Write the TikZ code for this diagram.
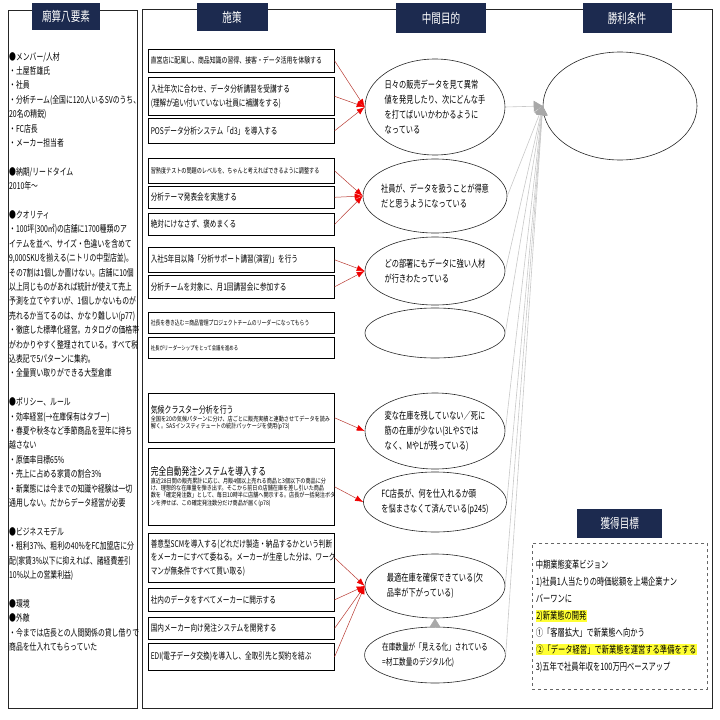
\documentclass[tikz,border=0pt]{standalone}
\usepackage{fontspec}
\setmainfont{Noto Sans CJK JP}[FakeStretch=0.72]
\newfontfamily\jpsub{Noto Sans CJK JP}[FakeStretch=0.8]
\usepackage{xcolor}
\usetikzlibrary{arrows.meta, positioning, shapes.geometric}
\definecolor{hdnavy}{HTML}{1C2A4F}
\definecolor{lnred}{HTML}{B83A32}
\definecolor{tipred}{HTML}{F00000}
\definecolor{lngray}{HTML}{C8C8C8}
\definecolor{tipgray}{HTML}{A8A8A8}
\definecolor{hlyellow}{HTML}{FFFF33}
\setlength{\fboxsep}{0.6pt}
\tikzset{
  thead/.style={fill=hdnavy, text=white, inner sep=0pt, minimum height=28pt, font=\fontsize{13.3}{14}\selectfont},
  tframe/.style={draw=black!85, line width=0.8pt},
  tside/.style={anchor=north west, inner sep=0pt, align=left, font=\fontsize{9.5}{14.4}\selectfont},
  tbox/.style={draw=black, line width=0.6pt, fill=white, anchor=north west, text width=181pt, inner xsep=2.5pt, inner ysep=0pt, align=left, font=\fontsize{9.2}{13.5}\selectfont},
  tgoal/.style={ellipse, draw=black!85, line width=0.6pt, minimum width=140pt, inner xsep=-3pt, inner ysep=0pt, align=left, font=\fontsize{10}{15}\selectfont},
  twin/.style={ellipse, draw=black!85, line width=0.6pt, minimum width=154pt, minimum height=108pt},
  tvision/.style={draw=black!60, dashed, line width=0.5pt, anchor=north west, minimum width=175pt, minimum height=146pt, text width=168pt, inner xsep=3pt, align=left, font=\fontsize{10.1}{17}\selectfont},
  tflowR/.style={-{Latex[length=8pt,width=6pt,color=tipred]}, lnred, line width=0.5pt},
  tflowG/.style={-{Triangle[length=9pt,width=11pt,color=tipgray]}, lngray, line width=0.6pt},
}
\newcommand{\subtxt}{\jpsub\fontsize{6.4}{7.3}\selectfont}

\begin{document}
\begin{tikzpicture}[x=1pt, y=-1pt]
  \useasboundingbox (0,0) rectangle (720,720);
  % frames
  \draw[tframe] (8,10) rectangle (137,708);
  \draw[tframe] (142,9) rectangle (712,708);
  % headers
  \node[thead, minimum width=68pt, minimum height=27pt] (hyoso) at (66,16) {廟算八要素};
  \node[thead, minimum width=71pt] (hsaku) at (232,17) {施策};
  \node[thead, minimum width=90pt, minimum height=30pt] (hmoku) at (441,18) {中間目的};
  \node[thead, minimum width=89pt, minimum height=30pt] (hshou) at (627,18) {勝利条件};

  % left column
  \node[tside] (yoso) at (9,52) {%
    ●メンバー/人材\\
    ・土屋哲雄氏\\
    ・社員\\
    ・分析チーム(全国に120人いるSVのうち、\\
    20名の精鋭)\\
    ・FC店長\\
    ・メーカー担当者\\
    \mbox{}\\
    ●納期/リードタイム\\
    2010年～\\
    \mbox{}\\
    ●クオリティ\\
    ・100坪(300㎡)の店舗に1700種類のア\\
    イテムを並べ、サイズ・色違いを含めて\\
    9,000SKUを揃える(ニトリの中型店並)。\\
    その7割は1個しか置けない。店舗に10個\\
    以上同じものがあれば統計が使えて売上\\
    予測を立てやすいが、1個しかないものが\\
    売れるか当てるのは、かなり難しい(p77)\\
    ・徹底した標準化経営。カタログの価格帯\\
    がわかりやすく整理されている。すべて税\\
    込表記で5パターンに集約。\\
    ・全量買い取りができる大型倉庫\\
    \mbox{}\\
    ●ポリシー、ルール\\
    ・効率経営(→在庫保有はタブー)\\
    ・春夏や秋冬など季節商品を翌年に持ち\\
    越さない\\
    ・原価率目標65\%\\
    ・売上に占める家賃の割合3\%\\
    ・新業態には今までの知識や経験は一切\\
    通用しない。だからデータ経営が必要\\
    \mbox{}\\
    ●ビジネスモデル\\
    ・粗利37\%、粗利の40\%をFC加盟店に分\\
    配(家賃3\%以下に抑えれば、諸経費差引\\
    10\%以上の営業利益)\\
    \mbox{}\\
    ●環境\\
    ●外敵\\
    ・今までは店長との人間関係の貸し借りで\\
    商品を仕入れてもらっていた};

  % measures
  \node[tbox, minimum height=23pt, font=\fontsize{8.2}{10}\selectfont] (b1) at (148,49) {直営店に配属し、商品知識の習得、接客・データ活用を体験する};
  \node[tbox, minimum height=38pt] (b2) at (148,77) {入社年次に合わせ、データ分析講習を受講する\\(理解が追い付いていない社員に補講をする)};
  \node[tbox, minimum height=25pt] (b3) at (148,118) {POSデータ分析システム「d3」を導入する};
  \node[tbox, minimum height=25pt, font=\fontsize{7.1}{9}\selectfont] (b4) at (148,158) {習熟度テストの問題のレベルを、ちゃんと考えればできるように調整する};
  \node[tbox, minimum height=22pt] (b5) at (148,186) {分析テーマ発表会を実施する};
  \node[tbox, minimum height=22pt] (b6) at (148,213) {絶対にけなさず、褒めまくる};
  \node[tbox, minimum height=25pt] (b7) at (148,247) {入社5年目以降「分析サポート講習(演習)」を行う};
  \node[tbox, minimum height=23pt] (b8) at (148,275) {分析チームを対象に、月1回講習会に参加する};
  \node[tbox, minimum height=21pt, font=\fontsize{6.7}{8}\selectfont] (b9) at (148,312) {社長を巻き込む＝商品管理プロジェクトチームのリーダーになってもらう};
  \node[tbox, minimum height=21pt, font=\fontsize{6.1}{8}\selectfont] (b10) at (148,337) {社長がリーダーシップをとって会議を進める};
  \node[tbox, minimum height=49pt] (b11) at (148,393) {%
    {\fontsize{9.6}{12}\selectfont 気候クラスター分析を行う\par}
    {\subtxt 全国を20の気候パターンに分け、店ごとに販売実績と連動させてデータを読み\\解く。SASインスティテュートの統計パッケージを使用(p73)\par}};
  \node[tbox, minimum height=77pt] (b12) at (148,448) {%
    {\fontsize{10.7}{13}\selectfont 完全自動発注システムを導入する\par}
    {\subtxt 直近28日間の販売累計に応じ、月販4個以上売れる商品と3個以下の商品に分\\け、理想的な在庫量を弾き出す。そこから前日の店舗在庫を差し引いた商品\\数を「確定発注数」として、毎日10時半に店舗へ開示する。店長が一括発注ボタ\\ンを押せば、この確定発注数分だけ商品が届く(p78)\par}};
  \node[tbox, minimum height=49pt] (b13) at (148,533) {善意型SCMを導入する(どれだけ製造・納品するかという判断\\をメーカーにすべて委ねる。メーカーが生産した分は、ワーク\\マンが無条件ですべて買い取る)};
  \node[tbox, minimum height=23pt] (b14) at (148,588) {社内のデータをすべてメーカーに開示する};
  \node[tbox, minimum height=22pt] (b15) at (148,617) {国内メーカー向け発注システムを開発する};
  \node[tbox, minimum height=27pt] (b16) at (148,643) {EDI(電子データ交換)を導入し、全取引先と契約を結ぶ};

  % intermediate goals
  \node[tgoal, minimum height=96pt] (e1) at (435,107) {日々の販売データを見て異常\\値を発見したり、次にどんな手\\を打てばいいかわかるように\\なっている};
  \node[tgoal, minimum height=74pt] (e2) at (435,196) {社員が、データを扱うことが得意\\だと思うようになっている};
  \node[tgoal, minimum height=68pt] (e3) at (435,271) {どの部署にもデータに強い人材\\が行きわたっている};
  \node[tgoal, minimum height=50pt] (e4) at (435,333) {};
  \node[tgoal, minimum height=76pt] (e5) at (435,431) {変な在庫を残していない／死に\\筋の在庫が少ない(3LやSでは\\なく、MやLが残っている)};
  \node[tgoal, minimum height=60pt] (e6) at (435,502) {FC店長が、何を仕入れるか頭\\を悩まさなくて済んでいる(p245)};
  \node[tgoal, minimum height=64pt] (e7) at (435,586) {最適在庫を確保できている(欠\\品率が下がっている)};
  \node[tgoal, minimum height=56pt, font=\fontsize{9.2}{15}\selectfont] (e8) at (435,655) {在庫数量が「見える化」されている\\=材工数量のデジタル化)};

  % winning condition
  \node[twin] (win) at (620,106) {};

  % acquisition goal
  \node[tvision] (vision) at (532,543) {%
    中期業態変革ビジョン\\
    1)社員1人当たりの時価総額を上場企業ナン\\
    バーワンに\\
    \colorbox{hlyellow}{2)新業態の開発}\\
    ①「客層拡大」で新業態へ向かう\\
    \colorbox{hlyellow}{②「データ経営」で新業態を運営する準備をする}\\
    3)五年で社員年収を100万円ベースアップ};
  \node[thead, minimum width=85pt, minimum height=29pt, above=5pt of vision] (hkaku) {獲得目標};

  % measures -> intermediate goals
  \foreach \b in {b1,b2,b3} \draw[tflowR] (\b.east) -- (e1.west);
  \foreach \b in {b4,b5,b6} \draw[tflowR] (\b.east) -- (e2.west);
  \foreach \b in {b7,b8} \draw[tflowR] (\b.east) -- (e3.west);
  \draw[tflowR] (b11.east) -- (e5.west);
  \draw[tflowR] (b12.east) -- (e6.west);
  \foreach \b in {b13,b14,b15,b16} \draw[tflowR] (\b.east) -- (e7.west);

  % intermediate goals -> winning condition
  \foreach \e in {e1,e2,e3,e4,e5,e6,e7,e8} \draw[tflowG] (\e.east) -- (win.west);
  \draw[tflowG] (e8) -- (e7);
\end{tikzpicture}
\end{document}
